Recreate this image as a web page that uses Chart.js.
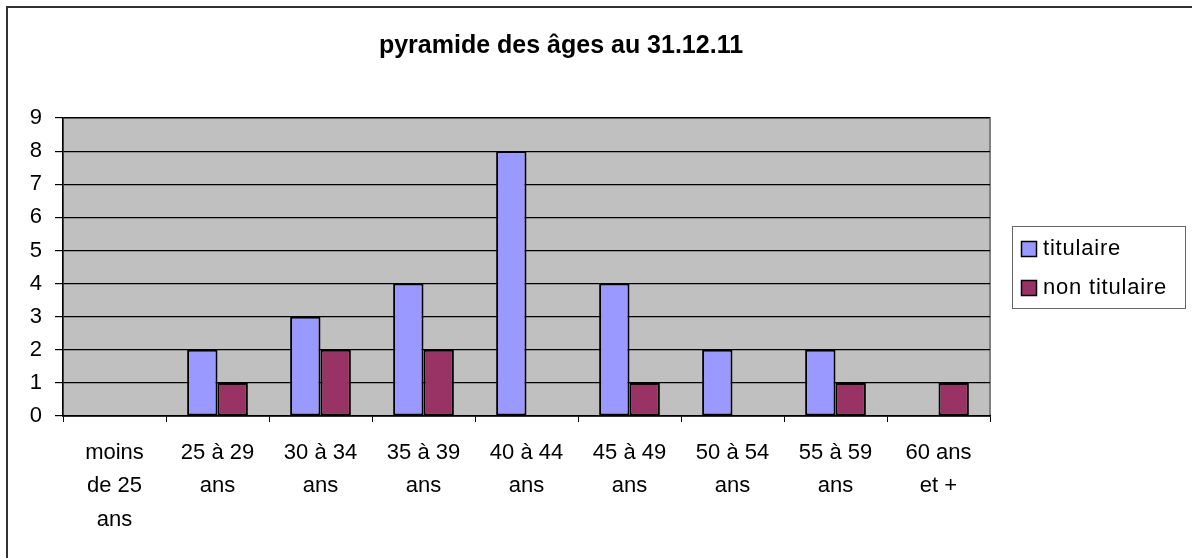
<!DOCTYPE html>
<html>
<head>
<meta charset="utf-8">
<script src="https://cdn.jsdelivr.net/npm/chart.js@4/dist/chart.umd.min.js"></script>
<style>
  html, body { margin: 0; padding: 0; background: #fff; }
  #wrap { width: 1192px; height: 558px; position: relative; }
</style>
</head>
<body>
<div id="wrap"><canvas id="myChart" width="1192" height="558"></canvas></div>
<script>
// tranches d'age (libelles sur plusieurs lignes comme dans Excel)
const categories = [
  ["moins", "de 25", "ans"],
  ["25 à 29", "ans"],
  ["30 à 34", "ans"],
  ["35 à 39", "ans"],
  ["40 à 44", "ans"],
  ["45 à 49", "ans"],
  ["50 à 54", "ans"],
  ["55 à 59", "ans"],
  ["60 ans", "et +"]
];
const titulaire = [0, 2, 3, 4, 8, 4, 2, 2, 0];
const nonTitulaire = [0, 1, 2, 2, 0, 1, 0, 1, 1];
const chartTitle = "pyramide des âges au 31.12.11";

const FONT = "'Liberation Sans', Arial, sans-serif";

// fond gris de la zone de tracé + cadre extérieur + titre + légende
const excelLook = {
  id: 'excelLook',
  beforeDraw(chart) {
    const {ctx, chartArea: a} = chart;
    ctx.save();
    ctx.fillStyle = '#C0C0C0';
    ctx.fillRect(a.left, a.top, a.right - a.left, a.bottom - a.top);
    ctx.strokeStyle = '#808080';
    ctx.lineWidth = 2;
    ctx.strokeRect(a.left, a.top, a.right - a.left, a.bottom - a.top);
    // cadre du graphique
    ctx.strokeStyle = '#333';
    ctx.lineWidth = 2;
    ctx.beginPath();
    ctx.moveTo(7, 600);
    ctx.lineTo(7, 7);
    ctx.lineTo(1200, 7);
    ctx.stroke();
    ctx.restore();
  },
  afterDraw(chart) {
    const {ctx} = chart;
    ctx.save();
    ctx.fillStyle = '#000';
    ctx.font = 'bold 25px ' + FONT;
    ctx.textAlign = 'center';
    ctx.textBaseline = 'alphabetic';
    ctx.fillText(chartTitle, 561, 53);

    // légende
    ctx.fillStyle = '#fff';
    ctx.fillRect(1012, 226, 174, 83);
    ctx.strokeStyle = '#666';
    ctx.lineWidth = 1;
    ctx.strokeRect(1012.5, 226.5, 173, 82);
    ctx.font = '22px ' + FONT;
    ctx.textAlign = 'left';
    if ('letterSpacing' in ctx) ctx.letterSpacing = '0.8px';
    chart.data.datasets.forEach((ds, i) => {
      const y = 241 + i * 39;
      ctx.fillStyle = ds.backgroundColor;
      ctx.fillRect(1021, y, 16, 16);
      ctx.strokeStyle = '#000';
      ctx.lineWidth = 1.5;
      ctx.strokeRect(1021.5, y + 0.5, 15, 15);
      ctx.fillStyle = '#000';
      ctx.fillText(ds.label, 1043, y + 14);
    });
    ctx.restore();
  }
};

const myChartRef = document.getElementById('myChart').getContext('2d');

new Chart(myChartRef, {
  type: 'bar',
  data: {
    labels: categories,
    datasets: [
      {
        label: 'titulaire',
        data: titulaire,
        backgroundColor: '#9999FF',
        borderColor: '#000',
        borderWidth: 2,
        borderSkipped: false
      },
      {
        label: 'non titulaire',
        data: nonTitulaire,
        backgroundColor: '#993366',
        borderColor: '#000',
        borderWidth: 2,
        borderSkipped: false
      }
    ]
  },
  options: {
    responsive: false,
    animation: false,
    layout: { padding: { left: 0, top: 118, right: 202, bottom: 0 } },
    datasets: { bar: { barPercentage: 1, categoryPercentage: 0.59 } },
    plugins: {
      legend: { display: false },
      title: { display: false },
      tooltip: { enabled: false }
    },
    scales: {
      x: {
        offset: true,
        grid: {
          offset: true,
          drawOnChartArea: false,
          drawTicks: true,
          tickLength: 6,
          color: '#000',
          lineWidth: 1
        },
        border: { display: true, color: '#000', width: 1.5 },
        ticks: {
          color: '#000',
          font: { family: FONT, size: 22, lineHeight: 1.52 },
          padding: 14,
          maxRotation: 0,
          autoSkip: false
        },
        afterFit(scale) { scale.height = 142; }
      },
      y: {
        min: 0,
        max: 9,
        ticks: {
          stepSize: 1,
          color: '#000',
          font: { family: FONT, size: 22 },
          padding: 13
        },
        grid: {
          color: '#000',
          lineWidth: 1.2,
          drawTicks: true,
          tickLength: 8
        },
        border: { display: true, color: '#000', width: 1.5 },
        afterFit(scale) { scale.width = 63; }
      }
    }
  },
  plugins: [excelLook]
});
</script>
</body>
</html>
